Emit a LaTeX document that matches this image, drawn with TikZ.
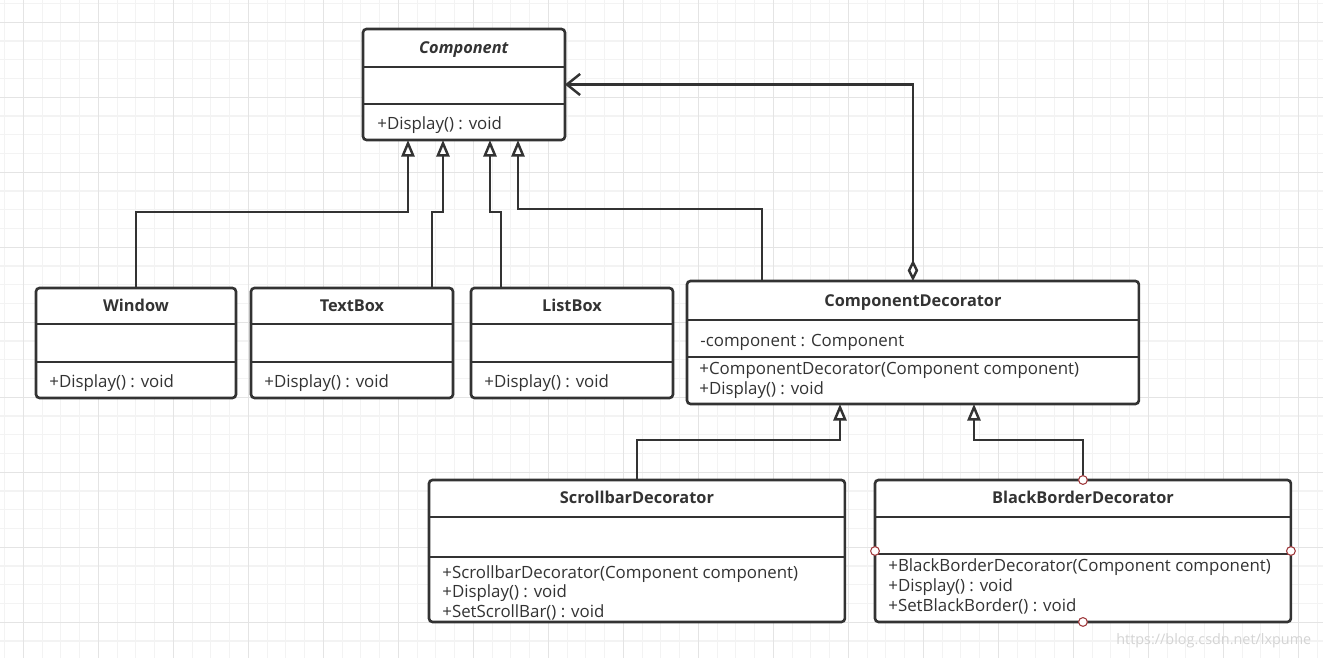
\documentclass[tikz,border=0pt]{standalone}
\usepackage{fontspec}
\setmainfont{Open Sans}
\usepackage{tikz}
\usetikzlibrary{arrows.meta}
\usetikzlibrary{calc}
\usetikzlibrary{positioning}
\definecolor{umlline}{HTML}{333333}
\definecolor{gridminor}{HTML}{F3F3F3}
\definecolor{gridmajor}{HTML}{E4E4E4}
\definecolor{handle}{HTML}{A0393C}
\tikzset{
  classbox/.style={draw=umlline,line width=1.5pt,rounded corners=2pt,fill=white,
    outer sep=0pt,inner sep=0pt,anchor=north west},
  title/.style={font=\bfseries\fontsize{9.3}{11}\selectfont,text=umlline,
    text height=7pt,text depth=2.4pt,inner sep=0pt,yshift=-1.1pt},
  member/.style={font=\fontsize{9.6}{11.5}\selectfont,text=umlline,anchor=west,
    text height=7.2pt,text depth=2.4pt,inner sep=0pt,yshift=-1.1pt},
  divider/.style={draw=umlline,line width=1.5pt},
  inherit/.style={draw=umlline,line width=1.4pt,
    -{Triangle[open,length=9.5pt,width=7.5pt,fill=white]}},
  aggr/.style={draw=umlline,line width=1.4pt,
    {Diamond[open,length=12pt,width=6pt,fill=white]}-{Straight Barb[length=7.5pt,width=12pt]}},
  selhandle/.style={circle,draw=handle,fill=white,line width=0.6pt,inner sep=0pt,minimum size=5pt}
}
\begin{document}
\begin{tikzpicture}[x=0.02cm,y=-0.02cm]
  \useasboundingbox (0,0) rectangle (1323,658);
  \fill[white] (0,0) rectangle (1323,658);
  % grid
  \foreach \i in {0,...,70}{
    \draw[gridminor,line width=0.6pt] (4.6+18.75*\i,0) -- (4.6+18.75*\i,658);
  }
  \foreach \i in {0,...,35}{
    \draw[gridminor,line width=0.6pt] (0,3.5+18.75*\i) -- (1323,3.5+18.75*\i);
  }
  \foreach \i in {0,...,17}{
    \draw[gridmajor,line width=0.7pt] (23.4+75*\i,0) -- (23.4+75*\i,658);
  }
  \foreach \i in {0,...,8}{
    \draw[gridmajor,line width=0.7pt] (0,22.3+75*\i) -- (1323,22.3+75*\i);
  }

  % Component
  \node[classbox,minimum width=4.04cm,minimum height=2.22cm] (comp) at (363,29) {};
  \draw[divider] ($(comp.north west)+(0,38)$) -- ($(comp.north east)+(0,38)$);
  \draw[divider] ($(comp.north west)+(0,75)$) -- ($(comp.north east)+(0,75)$);
  \node[title] (comp-t) at ($(comp.north)+(0,19)$) {\textit{Component}};
  \node[member] (comp-m1) at ($(comp.north west)+(14,94)$) {+Display() : void};

  % Window
  \node[classbox,minimum width=4cm,minimum height=2.2cm] (window) at (36,288) {};
  \draw[divider] ($(window.north west)+(0,36)$) -- ($(window.north east)+(0,36)$);
  \draw[divider] ($(window.north west)+(0,74)$) -- ($(window.north east)+(0,74)$);
  \node[title] (window-t) at ($(window.north)+(0,18)$) {Window};
  \node[member] (window-m1) at ($(window.north west)+(13,93)$) {+Display() : void};

  % TextBox
  \node[classbox,minimum width=4.04cm,minimum height=2.2cm] (textbox) at (251,288) {};
  \draw[divider] ($(textbox.north west)+(0,36)$) -- ($(textbox.north east)+(0,36)$);
  \draw[divider] ($(textbox.north west)+(0,74)$) -- ($(textbox.north east)+(0,74)$);
  \node[title] (textbox-t) at ($(textbox.north)+(0,18)$) {TextBox};
  \node[member] (textbox-m1) at ($(textbox.north west)+(13,93)$) {+Display() : void};

  % ListBox
  \node[classbox,minimum width=4.04cm,minimum height=2.2cm] (listbox) at (471,288) {};
  \draw[divider] ($(listbox.north west)+(0,36)$) -- ($(listbox.north east)+(0,36)$);
  \draw[divider] ($(listbox.north west)+(0,74)$) -- ($(listbox.north east)+(0,74)$);
  \node[title] (listbox-t) at ($(listbox.north)+(0,18)$) {ListBox};
  \node[member] (listbox-m1) at ($(listbox.north west)+(13,93)$) {+Display() : void};

  % ComponentDecorator
  \node[classbox,minimum width=9.04cm,minimum height=2.46cm] (compdec) at (687,281) {};
  \draw[divider] ($(compdec.north west)+(0,39)$) -- ($(compdec.north east)+(0,39)$);
  \draw[divider] ($(compdec.north west)+(0,76)$) -- ($(compdec.north east)+(0,76)$);
  \node[title] (compdec-t) at ($(compdec.north)+(0,20)$) {ComponentDecorator};
  \node[member] (compdec-a1) at ($(compdec.north west)+(13,59)$) {-component : Component};
  \node[member] (compdec-m1) at ($(compdec.north west)+(12,87)$) {+ComponentDecorator(Component component)};
  \node[member] (compdec-m2) at ($(compdec.north west)+(12,107)$) {+Display() : void};

  % ScrollbarDecorator
  \node[classbox,minimum width=8.32cm,minimum height=2.84cm] (scroll) at (429,480) {};
  \draw[divider] ($(scroll.north west)+(0,37)$) -- ($(scroll.north east)+(0,37)$);
  \draw[divider] ($(scroll.north west)+(0,77)$) -- ($(scroll.north east)+(0,77)$);
  \node[title] (scroll-t) at ($(scroll.north)+(0,18)$) {ScrollbarDecorator};
  \node[member] (scroll-m1) at ($(scroll.north west)+(13,92)$) {+ScrollbarDecorator(Component component)};
  \node[member] (scroll-m2) at ($(scroll.north west)+(13,111)$) {+Display() : void};
  \node[member] (scroll-m3) at ($(scroll.north west)+(13,131)$) {+SetScrollBar() : void};

  % BlackBorderDecorator
  \node[classbox,minimum width=8.32cm,minimum height=2.84cm] (black) at (875,480) {};
  \draw[divider] ($(black.north west)+(0,37)$) -- ($(black.north east)+(0,37)$);
  \draw[divider] ($(black.north west)+(0,74)$) -- ($(black.north east)+(0,74)$);
  \node[title] (black-t) at ($(black.north)+(0,18)$) {BlackBorderDecorator};
  \node[member] (black-m1) at ($(black.north west)+(13,85)$) {+BlackBorderDecorator(Component component)};
  \node[member] (black-m2) at ($(black.north west)+(13,105)$) {+Display() : void};
  \node[member] (black-m3) at ($(black.north west)+(13,125)$) {+SetBlackBorder() : void};

  % connector ends
  \coordinate (c1) at ($(comp.south west)+(45,0)$);
  \coordinate (c2) at ($(comp.south west)+(80,0)$);
  \coordinate (c3) at ($(comp.south west)+(127,0)$);
  \coordinate (c4) at ($(comp.south west)+(155,0)$);
  \coordinate (cd1) at ($(compdec.south west)+(153,0)$);
  \coordinate (cd2) at ($(compdec.south west)+(287,0)$);

  \draw[inherit] (window.north) -- ++(0,-76) -| (c1);
  \draw[inherit] ($(textbox.north east)+(-21,0)$) -- ++(0,-76) -| (c2);
  \draw[inherit] ($(listbox.north west)+(30,0)$) -- ++(0,-76) -| (c3);
  \draw[inherit] ($(compdec.north west)+(75,0)$) -- ++(0,-72) -| (c4);
  \draw[aggr] (compdec.north) |- (comp.east);
  \draw[inherit] (scroll.north) -- ++(0,-40) -| (cd1);
  \draw[inherit] (black.north) -- ++(0,-40) -| (cd2);

  % selection handles
  \node[selhandle] (h-top) at (black.north) {};
  \node[selhandle] (h-bottom) at (black.south) {};
  \node[selhandle] (h-left) at ($(black.north west)+(0,71)$) {};
  \node[selhandle] (h-right) at ($(black.north east)+(0,71)$) {};

  \node[anchor=west,text=black!17,font=\fontsize{8.2}{10}\selectfont,inner sep=0pt] (mark) at (1116,641) {https://blog.csdn.net/lxpume};
\end{tikzpicture}
\end{document}
